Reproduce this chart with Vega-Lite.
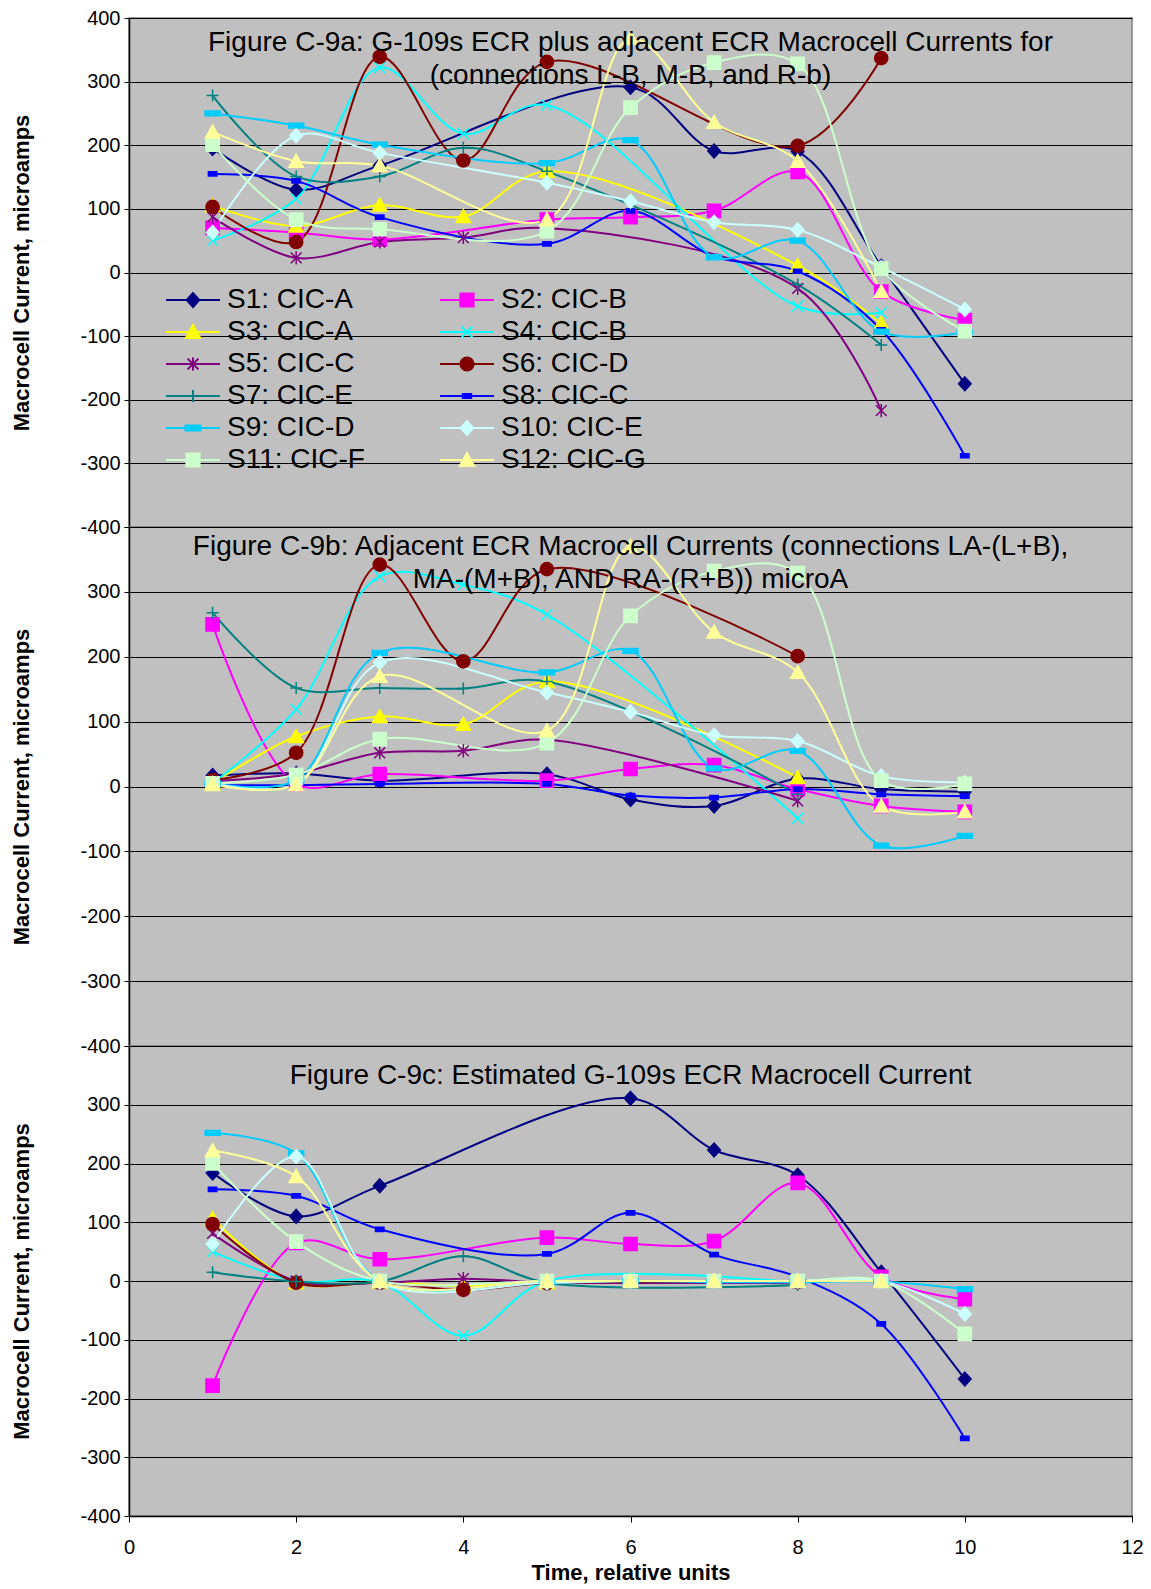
{
"$schema": "https://vega.github.io/schema/vega-lite/v6.json",
"padding": {"left": 10, "top": 7, "right": 5, "bottom": 3},
"background": "white",
"spacing": 0,
"bounds": "flush",
"config": {
  "view": {"fill": "#C0C0C0", "stroke": "#808080", "strokeWidth": 1.5},
  "concat": {"spacing": 0},
  "axisX": {"grid": false, "domainColor": "#000000", "domainWidth": 1.5, "tickColor": "#000000", "tickSize": 6, "labelFont": "Liberation Sans Narrow, Liberation Sans", "labelFontSize": 20, "labelColor": "#000000", "labelPadding": 15, "labelFlush": false, "titleFont": "Liberation Sans", "titleFontSize": 22, "titleFontWeight": "bold", "titleColor": "#000000", "titlePadding": 5},
  "axisY": {"grid": true, "gridColor": "#000000", "gridWidth": 1, "gridOpacity": 1, "domainColor": "#000000", "domainWidth": 1.5, "tickColor": "#000000", "tickSize": 5, "labelFont": "Liberation Sans Narrow, Liberation Sans", "labelFontSize": 20, "labelColor": "#000000", "labelPadding": 4, "labelFlush": false, "titleFont": "Liberation Sans", "titleFontSize": 22, "titleFontWeight": "bold", "titleColor": "#000000", "titlePadding": 46},
  "title": {"font": "Liberation Sans", "fontSize": 28, "fontWeight": "normal", "color": "#000000", "anchor": "middle", "frame": "group", "lineHeight": 33, "baseline": "top"}
},
"datasets": {"d": [
{"p":"a","s":"S1: CIC-A","x":1,"y":195},{"p":"a","s":"S1: CIC-A","x":2,"y":130},{"p":"a","s":"S1: CIC-A","x":3,"y":168},{"p":"a","s":"S1: CIC-A","x":6,"y":291},{"p":"a","s":"S1: CIC-A","x":7,"y":191},{"p":"a","s":"S1: CIC-A","x":8,"y":190},{"p":"a","s":"S1: CIC-A","x":9,"y":10},{"p":"a","s":"S1: CIC-A","x":10,"y":-175},
{"p":"a","s":"S2: CIC-B","x":1,"y":70},{"p":"a","s":"S2: CIC-B","x":2,"y":63},{"p":"a","s":"S2: CIC-B","x":3,"y":52},{"p":"a","s":"S2: CIC-B","x":5,"y":83},{"p":"a","s":"S2: CIC-B","x":6,"y":87},{"p":"a","s":"S2: CIC-B","x":7,"y":97},{"p":"a","s":"S2: CIC-B","x":8,"y":158},{"p":"a","s":"S2: CIC-B","x":9,"y":-30},{"p":"a","s":"S2: CIC-B","x":10,"y":-75},
{"p":"a","s":"S3: CIC-A","x":1,"y":105},{"p":"a","s":"S3: CIC-A","x":2,"y":73},{"p":"a","s":"S3: CIC-A","x":3,"y":106},{"p":"a","s":"S3: CIC-A","x":4,"y":88},{"p":"a","s":"S3: CIC-A","x":5,"y":159},{"p":"a","s":"S3: CIC-A","x":8,"y":11},{"p":"a","s":"S3: CIC-A","x":9,"y":-80},
{"p":"a","s":"S4: CIC-B","x":1,"y":50},{"p":"a","s":"S4: CIC-B","x":2,"y":116},{"p":"a","s":"S4: CIC-B","x":3,"y":322},{"p":"a","s":"S4: CIC-B","x":4,"y":218},{"p":"a","s":"S4: CIC-B","x":5,"y":263},{"p":"a","s":"S4: CIC-B","x":8,"y":-53},{"p":"a","s":"S4: CIC-B","x":9,"y":-63},
{"p":"a","s":"S5: CIC-C","x":1,"y":87},{"p":"a","s":"S5: CIC-C","x":2,"y":23},{"p":"a","s":"S5: CIC-C","x":3,"y":48},{"p":"a","s":"S5: CIC-C","x":4,"y":55},{"p":"a","s":"S5: CIC-C","x":5,"y":70},{"p":"a","s":"S5: CIC-C","x":8,"y":-25},{"p":"a","s":"S5: CIC-C","x":9,"y":-217},
{"p":"a","s":"S6: CIC-D","x":1,"y":103},{"p":"a","s":"S6: CIC-D","x":2,"y":48},{"p":"a","s":"S6: CIC-D","x":3,"y":339},{"p":"a","s":"S6: CIC-D","x":4,"y":176},{"p":"a","s":"S6: CIC-D","x":5,"y":331},{"p":"a","s":"S6: CIC-D","x":8,"y":199},{"p":"a","s":"S6: CIC-D","x":9,"y":337},
{"p":"a","s":"S7: CIC-E","x":1,"y":278},{"p":"a","s":"S7: CIC-E","x":2,"y":151},{"p":"a","s":"S7: CIC-E","x":3,"y":151},{"p":"a","s":"S7: CIC-E","x":4,"y":196},{"p":"a","s":"S7: CIC-E","x":5,"y":159},{"p":"a","s":"S7: CIC-E","x":8,"y":-19},{"p":"a","s":"S7: CIC-E","x":9,"y":-114},
{"p":"a","s":"S8: CIC-C","x":1,"y":155},{"p":"a","s":"S8: CIC-C","x":2,"y":144},{"p":"a","s":"S8: CIC-C","x":3,"y":87},{"p":"a","s":"S8: CIC-C","x":5,"y":45},{"p":"a","s":"S8: CIC-C","x":6,"y":97},{"p":"a","s":"S8: CIC-C","x":7,"y":25},{"p":"a","s":"S8: CIC-C","x":8,"y":2},{"p":"a","s":"S8: CIC-C","x":9,"y":-90},{"p":"a","s":"S8: CIC-C","x":10,"y":-288},
{"p":"a","s":"S9: CIC-D","x":1,"y":250},{"p":"a","s":"S9: CIC-D","x":2,"y":231},{"p":"a","s":"S9: CIC-D","x":3,"y":201},{"p":"a","s":"S9: CIC-D","x":5,"y":172},{"p":"a","s":"S9: CIC-D","x":6,"y":208},{"p":"a","s":"S9: CIC-D","x":7,"y":24},{"p":"a","s":"S9: CIC-D","x":8,"y":50},{"p":"a","s":"S9: CIC-D","x":9,"y":-93},{"p":"a","s":"S9: CIC-D","x":10,"y":-94},
{"p":"a","s":"S10: CIC-E","x":1,"y":63},{"p":"a","s":"S10: CIC-E","x":2,"y":215},{"p":"a","s":"S10: CIC-E","x":3,"y":188},{"p":"a","s":"S10: CIC-E","x":5,"y":141},{"p":"a","s":"S10: CIC-E","x":6,"y":112},{"p":"a","s":"S10: CIC-E","x":7,"y":79},{"p":"a","s":"S10: CIC-E","x":8,"y":67},{"p":"a","s":"S10: CIC-E","x":9,"y":8},{"p":"a","s":"S10: CIC-E","x":10,"y":-58},
{"p":"a","s":"S11: CIC-F","x":1,"y":201},{"p":"a","s":"S11: CIC-F","x":2,"y":83},{"p":"a","s":"S11: CIC-F","x":3,"y":68},{"p":"a","s":"S11: CIC-F","x":5,"y":65},{"p":"a","s":"S11: CIC-F","x":6,"y":259},{"p":"a","s":"S11: CIC-F","x":7,"y":330},{"p":"a","s":"S11: CIC-F","x":8,"y":328},{"p":"a","s":"S11: CIC-F","x":9,"y":6},{"p":"a","s":"S11: CIC-F","x":10,"y":-92},
{"p":"a","s":"S12: CIC-G","x":1,"y":221},{"p":"a","s":"S12: CIC-G","x":2,"y":175},{"p":"a","s":"S12: CIC-G","x":3,"y":168},{"p":"a","s":"S12: CIC-G","x":5,"y":83},{"p":"a","s":"S12: CIC-G","x":6,"y":368},{"p":"a","s":"S12: CIC-G","x":7,"y":236},{"p":"a","s":"S12: CIC-G","x":8,"y":175},{"p":"a","s":"S12: CIC-G","x":9,"y":-30},

{"p":"b","s":"S1: CIC-A","x":1,"y":17},{"p":"b","s":"S1: CIC-A","x":2,"y":20},{"p":"b","s":"S1: CIC-A","x":3,"y":9},{"p":"b","s":"S1: CIC-A","x":5,"y":19},{"p":"b","s":"S1: CIC-A","x":6,"y":-20},{"p":"b","s":"S1: CIC-A","x":7,"y":-30},{"p":"b","s":"S1: CIC-A","x":8,"y":12},{"p":"b","s":"S1: CIC-A","x":9,"y":-4},{"p":"b","s":"S1: CIC-A","x":10,"y":-8},
{"p":"b","s":"S2: CIC-B","x":1,"y":250},{"p":"b","s":"S2: CIC-B","x":2,"y":4},{"p":"b","s":"S2: CIC-B","x":3,"y":19},{"p":"b","s":"S2: CIC-B","x":5,"y":9},{"p":"b","s":"S2: CIC-B","x":6,"y":27},{"p":"b","s":"S2: CIC-B","x":7,"y":33},{"p":"b","s":"S2: CIC-B","x":8,"y":-4},{"p":"b","s":"S2: CIC-B","x":9,"y":-30},{"p":"b","s":"S2: CIC-B","x":10,"y":-39},
{"p":"b","s":"S3: CIC-A","x":1,"y":5},{"p":"b","s":"S3: CIC-A","x":2,"y":77},{"p":"b","s":"S3: CIC-A","x":3,"y":108},{"p":"b","s":"S3: CIC-A","x":4,"y":96},{"p":"b","s":"S3: CIC-A","x":5,"y":162},{"p":"b","s":"S3: CIC-A","x":8,"y":14},
{"p":"b","s":"S4: CIC-B","x":1,"y":5},{"p":"b","s":"S4: CIC-B","x":2,"y":119},{"p":"b","s":"S4: CIC-B","x":3,"y":324},{"p":"b","s":"S4: CIC-B","x":4,"y":311},{"p":"b","s":"S4: CIC-B","x":5,"y":265},{"p":"b","s":"S4: CIC-B","x":8,"y":-49},
{"p":"b","s":"S5: CIC-C","x":1,"y":8},{"p":"b","s":"S5: CIC-C","x":2,"y":20},{"p":"b","s":"S5: CIC-C","x":3,"y":52},{"p":"b","s":"S5: CIC-C","x":4,"y":55},{"p":"b","s":"S5: CIC-C","x":5,"y":72},{"p":"b","s":"S5: CIC-C","x":8,"y":-22},
{"p":"b","s":"S6: CIC-D","x":1,"y":10},{"p":"b","s":"S6: CIC-D","x":2,"y":52},{"p":"b","s":"S6: CIC-D","x":3,"y":342},{"p":"b","s":"S6: CIC-D","x":4,"y":193},{"p":"b","s":"S6: CIC-D","x":5,"y":335},{"p":"b","s":"S6: CIC-D","x":8,"y":201},
{"p":"b","s":"S7: CIC-E","x":1,"y":268},{"p":"b","s":"S7: CIC-E","x":2,"y":152},{"p":"b","s":"S7: CIC-E","x":3,"y":152},{"p":"b","s":"S7: CIC-E","x":4,"y":151},{"p":"b","s":"S7: CIC-E","x":5,"y":162},{"p":"b","s":"S7: CIC-E","x":8,"y":-12},
{"p":"b","s":"S8: CIC-C","x":1,"y":2},{"p":"b","s":"S8: CIC-C","x":2,"y":2},{"p":"b","s":"S8: CIC-C","x":3,"y":4},{"p":"b","s":"S8: CIC-C","x":5,"y":4},{"p":"b","s":"S8: CIC-C","x":6,"y":-14},{"p":"b","s":"S8: CIC-C","x":7,"y":-17},{"p":"b","s":"S8: CIC-C","x":8,"y":-4},{"p":"b","s":"S8: CIC-C","x":9,"y":-12},{"p":"b","s":"S8: CIC-C","x":10,"y":-15},
{"p":"b","s":"S9: CIC-D","x":1,"y":5},{"p":"b","s":"S9: CIC-D","x":2,"y":10},{"p":"b","s":"S9: CIC-D","x":3,"y":206},{"p":"b","s":"S9: CIC-D","x":5,"y":176},{"p":"b","s":"S9: CIC-D","x":6,"y":209},{"p":"b","s":"S9: CIC-D","x":7,"y":28},{"p":"b","s":"S9: CIC-D","x":8,"y":55},{"p":"b","s":"S9: CIC-D","x":9,"y":-91},{"p":"b","s":"S9: CIC-D","x":10,"y":-76},
{"p":"b","s":"S10: CIC-E","x":1,"y":5},{"p":"b","s":"S10: CIC-E","x":2,"y":4},{"p":"b","s":"S10: CIC-E","x":3,"y":191},{"p":"b","s":"S10: CIC-E","x":5,"y":145},{"p":"b","s":"S10: CIC-E","x":6,"y":115},{"p":"b","s":"S10: CIC-E","x":7,"y":79},{"p":"b","s":"S10: CIC-E","x":8,"y":70},{"p":"b","s":"S10: CIC-E","x":9,"y":16},{"p":"b","s":"S10: CIC-E","x":10,"y":6},
{"p":"b","s":"S11: CIC-F","x":1,"y":5},{"p":"b","s":"S11: CIC-F","x":2,"y":18},{"p":"b","s":"S11: CIC-F","x":3,"y":73},{"p":"b","s":"S11: CIC-F","x":5,"y":67},{"p":"b","s":"S11: CIC-F","x":6,"y":263},{"p":"b","s":"S11: CIC-F","x":7,"y":332},{"p":"b","s":"S11: CIC-F","x":8,"y":329},{"p":"b","s":"S11: CIC-F","x":9,"y":9},{"p":"b","s":"S11: CIC-F","x":10,"y":4},
{"p":"b","s":"S12: CIC-G","x":1,"y":3},{"p":"b","s":"S12: CIC-G","x":2,"y":3},{"p":"b","s":"S12: CIC-G","x":3,"y":170},{"p":"b","s":"S12: CIC-G","x":5,"y":86},{"p":"b","s":"S12: CIC-G","x":6,"y":370},{"p":"b","s":"S12: CIC-G","x":7,"y":238},{"p":"b","s":"S12: CIC-G","x":8,"y":176},{"p":"b","s":"S12: CIC-G","x":9,"y":-30},{"p":"b","s":"S12: CIC-G","x":10,"y":-39},

{"p":"c","s":"S1: CIC-A","x":1,"y":184},{"p":"c","s":"S1: CIC-A","x":2,"y":110},{"p":"c","s":"S1: CIC-A","x":3,"y":162},{"p":"c","s":"S1: CIC-A","x":6,"y":311},{"p":"c","s":"S1: CIC-A","x":7,"y":223},{"p":"c","s":"S1: CIC-A","x":8,"y":180},{"p":"c","s":"S1: CIC-A","x":9,"y":15},{"p":"c","s":"S1: CIC-A","x":10,"y":-167},
{"p":"c","s":"S2: CIC-B","x":1,"y":-178},{"p":"c","s":"S2: CIC-B","x":2,"y":65},{"p":"c","s":"S2: CIC-B","x":3,"y":37},{"p":"c","s":"S2: CIC-B","x":5,"y":74},{"p":"c","s":"S2: CIC-B","x":6,"y":63},{"p":"c","s":"S2: CIC-B","x":7,"y":68},{"p":"c","s":"S2: CIC-B","x":8,"y":167},{"p":"c","s":"S2: CIC-B","x":9,"y":7},{"p":"c","s":"S2: CIC-B","x":10,"y":-31},
{"p":"c","s":"S3: CIC-A","x":1,"y":106},{"p":"c","s":"S3: CIC-A","x":2,"y":-3},{"p":"c","s":"S3: CIC-A","x":3,"y":-2},{"p":"c","s":"S3: CIC-A","x":4,"y":-8},{"p":"c","s":"S3: CIC-A","x":5,"y":-3},{"p":"c","s":"S3: CIC-A","x":8,"y":0},
{"p":"c","s":"S4: CIC-B","x":1,"y":50},{"p":"c","s":"S4: CIC-B","x":2,"y":0},{"p":"c","s":"S4: CIC-B","x":3,"y":-2},{"p":"c","s":"S4: CIC-B","x":4,"y":-93},{"p":"c","s":"S4: CIC-B","x":5,"y":0},{"p":"c","s":"S4: CIC-B","x":8,"y":-3},
{"p":"c","s":"S5: CIC-C","x":1,"y":81},{"p":"c","s":"S5: CIC-C","x":2,"y":0},{"p":"c","s":"S5: CIC-C","x":3,"y":-3},{"p":"c","s":"S5: CIC-C","x":4,"y":4},{"p":"c","s":"S5: CIC-C","x":5,"y":-2},{"p":"c","s":"S5: CIC-C","x":8,"y":-3},
{"p":"c","s":"S6: CIC-D","x":1,"y":97},{"p":"c","s":"S6: CIC-D","x":2,"y":-3},{"p":"c","s":"S6: CIC-D","x":3,"y":-3},{"p":"c","s":"S6: CIC-D","x":4,"y":-15},{"p":"c","s":"S6: CIC-D","x":5,"y":-4},{"p":"c","s":"S6: CIC-D","x":8,"y":-2},
{"p":"c","s":"S7: CIC-E","x":1,"y":15},{"p":"c","s":"S7: CIC-E","x":2,"y":-1},{"p":"c","s":"S7: CIC-E","x":3,"y":-1},{"p":"c","s":"S7: CIC-E","x":4,"y":42},{"p":"c","s":"S7: CIC-E","x":5,"y":-3},{"p":"c","s":"S7: CIC-E","x":8,"y":-7},
{"p":"c","s":"S8: CIC-C","x":1,"y":156},{"p":"c","s":"S8: CIC-C","x":2,"y":145},{"p":"c","s":"S8: CIC-C","x":3,"y":88},{"p":"c","s":"S8: CIC-C","x":5,"y":46},{"p":"c","s":"S8: CIC-C","x":6,"y":116},{"p":"c","s":"S8: CIC-C","x":7,"y":45},{"p":"c","s":"S8: CIC-C","x":8,"y":7},{"p":"c","s":"S8: CIC-C","x":9,"y":-73},{"p":"c","s":"S8: CIC-C","x":10,"y":-268},
{"p":"c","s":"S9: CIC-D","x":1,"y":252},{"p":"c","s":"S9: CIC-D","x":2,"y":217},{"p":"c","s":"S9: CIC-D","x":3,"y":0},{"p":"c","s":"S9: CIC-D","x":5,"y":-3},{"p":"c","s":"S9: CIC-D","x":6,"y":0},{"p":"c","s":"S9: CIC-D","x":7,"y":-2},{"p":"c","s":"S9: CIC-D","x":8,"y":-2},{"p":"c","s":"S9: CIC-D","x":9,"y":-1},{"p":"c","s":"S9: CIC-D","x":10,"y":-14},
{"p":"c","s":"S10: CIC-E","x":1,"y":63},{"p":"c","s":"S10: CIC-E","x":2,"y":212},{"p":"c","s":"S10: CIC-E","x":3,"y":-2},{"p":"c","s":"S10: CIC-E","x":5,"y":-3},{"p":"c","s":"S10: CIC-E","x":6,"y":0},{"p":"c","s":"S10: CIC-E","x":7,"y":0},{"p":"c","s":"S10: CIC-E","x":8,"y":0},{"p":"c","s":"S10: CIC-E","x":9,"y":0},{"p":"c","s":"S10: CIC-E","x":10,"y":-56},
{"p":"c","s":"S11: CIC-F","x":1,"y":200},{"p":"c","s":"S11: CIC-F","x":2,"y":67},{"p":"c","s":"S11: CIC-F","x":3,"y":0},{"p":"c","s":"S11: CIC-F","x":5,"y":0},{"p":"c","s":"S11: CIC-F","x":6,"y":0},{"p":"c","s":"S11: CIC-F","x":7,"y":0},{"p":"c","s":"S11: CIC-F","x":8,"y":0},{"p":"c","s":"S11: CIC-F","x":9,"y":0},{"p":"c","s":"S11: CIC-F","x":10,"y":-90},
{"p":"c","s":"S12: CIC-G","x":1,"y":222},{"p":"c","s":"S12: CIC-G","x":2,"y":178},{"p":"c","s":"S12: CIC-G","x":3,"y":0},{"p":"c","s":"S12: CIC-G","x":5,"y":0},{"p":"c","s":"S12: CIC-G","x":6,"y":0},{"p":"c","s":"S12: CIC-G","x":7,"y":0},{"p":"c","s":"S12: CIC-G","x":8,"y":0},{"p":"c","s":"S12: CIC-G","x":9,"y":0}
]},
"vconcat": [
{
 "width": 1003, "height": 509,
 "data": {"name": "d"},
 "transform": [{"filter": "datum.p == 'a'"}],
 "title": {"text": ["Figure C-9a:  G-109s ECR plus adjacent ECR Macrocell Currents for", "(connections L-B, M-B, and R-b)"], "offset": -82},
 "encoding": {
   "x": {"field": "x", "type": "quantitative", "scale": {"domain": [0, 12]}, "axis": null},
   "y": {"field": "y", "type": "quantitative", "scale": {"domain": [-400, 400]}, "axis": {"values": [-400,-300,-200,-100,0,100,200,300,400], "labelExpr": "'' + datum.value", "title": "Macrocell Current, microamps"}}
 },
 "layer": [
  {"mark": {"type": "line", "interpolate": "catmull-rom", "strokeWidth": 2},
   "encoding": {"stroke": {"field": "s", "type": "nominal", "legend": null,
     "scale": {"domain": ["S1: CIC-A","S2: CIC-B","S3: CIC-A","S4: CIC-B","S5: CIC-C","S6: CIC-D","S7: CIC-E","S8: CIC-C","S9: CIC-D","S10: CIC-E","S11: CIC-F","S12: CIC-G"],
               "range": ["#000080","#FF00FF","#FFFF00","#00FFFF","#800080","#800000","#008080","#0000FF","#00CCFF","#CCFFFF","#CCFFCC","#FFFF99"]}}}},
  {"mark": {"type": "point", "filled": true, "size": 144, "strokeWidth": 1.5, "opacity": 1},
   "encoding": {
     "fill": {"field": "s", "type": "nominal", "legend": null,
       "scale": {"domain": ["S1: CIC-A","S2: CIC-B","S3: CIC-A","S4: CIC-B","S5: CIC-C","S6: CIC-D","S7: CIC-E","S8: CIC-C","S9: CIC-D","S10: CIC-E","S11: CIC-F","S12: CIC-G"],
                 "range": ["#000080","#FF00FF","#FFFF00","#00FFFF","#800080","#800000","#008080","#0000FF","#00CCFF","#CCFFFF","#CCFFCC","#FFFF99"]}},
     "stroke": {"field": "s", "type": "nominal", "legend": null,
       "scale": {"domain": ["S1: CIC-A","S2: CIC-B","S3: CIC-A","S4: CIC-B","S5: CIC-C","S6: CIC-D","S7: CIC-E","S8: CIC-C","S9: CIC-D","S10: CIC-E","S11: CIC-F","S12: CIC-G"],
                 "range": ["#000080","#FF00FF","#FFFF00","#00FFFF","#800080","#800000","#008080","#0000FF","#00CCFF","#CCFFFF","#CCFFCC","#FFFF99"]}},
     "shape": {"field": "s", "type": "nominal", "legend": null,
       "scale": {"domain": ["S1: CIC-A","S2: CIC-B","S3: CIC-A","S4: CIC-B","S5: CIC-C","S6: CIC-D","S7: CIC-E","S8: CIC-C","S9: CIC-D","S10: CIC-E","S11: CIC-F","S12: CIC-G"],
                 "range": ["M0,-1.15L1.05,0L0,1.15L-1.05,0Z","M-1.1,-1.1H1.1V1.1H-1.1Z","M0,-1.15L1.2,1L-1.2,1Z","M-0.9,-0.9L0.9,0.9M-0.9,0.9L0.9,-0.9","M-0.9,-0.9L0.9,0.9M-0.9,0.9L0.9,-0.9M0,-1.1V1.1","M-1.1,0A1.1,1.1,0,1,1,1.1,0A1.1,1.1,0,1,1,-1.1,0Z","M-1,0H1M0,-1V1","M-0.7,-0.35H0.7V0.35H-0.7Z","M-1.25,-0.4H1.25V0.4H-1.25Z","M0,-1.15L1.05,0L0,1.15L-1.05,0Z","M-1.1,-1.1H1.1V1.1H-1.1Z","M0,-1.15L1.2,1L-1.2,1Z"]}}
   }},
  {"transform": [{"filter": "false"}],
   "mark": {"type": "point", "filled": true, "size": 144, "strokeWidth": 2, "opacity": 1},
   "encoding": {
     "fill": {"field": "s", "type": "nominal",
       "scale": {"domain": ["S1: CIC-A","S2: CIC-B","S3: CIC-A","S4: CIC-B","S5: CIC-C","S6: CIC-D","S7: CIC-E","S8: CIC-C","S9: CIC-D","S10: CIC-E","S11: CIC-F","S12: CIC-G"],
                 "range": ["#000080","#FF00FF","#FFFF00","#00FFFF","#800080","#800000","#008080","#0000FF","#00CCFF","#CCFFFF","#CCFFCC","#FFFF99"]},
       "legend": {"orient": "none", "legendX": 29, "legendY": 268, "columns": 2, "direction": "horizontal", "title": null, "labelFont": "Liberation Sans", "labelFontSize": 28, "labelColor": "#000000", "symbolSize": 144, "symbolStrokeWidth": 2, "symbolOffset": 21, "labelOffset": 20, "rowPadding": 4, "columnPadding": 60, "gridAlign": "all", "labelLimit": 0}},
     "stroke": {"field": "s", "type": "nominal",
       "scale": {"domain": ["S1: CIC-A","S2: CIC-B","S3: CIC-A","S4: CIC-B","S5: CIC-C","S6: CIC-D","S7: CIC-E","S8: CIC-C","S9: CIC-D","S10: CIC-E","S11: CIC-F","S12: CIC-G"],
                 "range": ["#000080","#FF00FF","#FFFF00","#00FFFF","#800080","#800000","#008080","#0000FF","#00CCFF","#CCFFFF","#CCFFCC","#FFFF99"]},
       "legend": {"orient": "none", "legendX": 29, "legendY": 268, "columns": 2, "direction": "horizontal", "title": null, "labelFont": "Liberation Sans", "labelFontSize": 28, "labelColor": "#000000", "symbolSize": 144, "symbolStrokeWidth": 2, "symbolOffset": 21, "labelOffset": 20, "rowPadding": 4, "columnPadding": 60, "gridAlign": "all", "labelLimit": 0}},
     "shape": {"field": "s", "type": "nominal",
       "scale": {"domain": ["S1: CIC-A","S2: CIC-B","S3: CIC-A","S4: CIC-B","S5: CIC-C","S6: CIC-D","S7: CIC-E","S8: CIC-C","S9: CIC-D","S10: CIC-E","S11: CIC-F","S12: CIC-G"],
                 "range": ["M-4.5,0H4.5M0,-1.15L1.05,0L0,1.15L-1.05,0Z","M-4.5,0H4.5M-1.1,-1.1H1.1V1.1H-1.1Z","M-4.5,0H4.5M0,-1.15L1.2,1L-1.2,1Z","M-4.5,0H4.5M-0.9,-0.9L0.9,0.9M-0.9,0.9L0.9,-0.9","M-4.5,0H4.5M-0.9,-0.9L0.9,0.9M-0.9,0.9L0.9,-0.9M0,-1.1V1.1","M-4.5,0H4.5M-1.1,0A1.1,1.1,0,1,1,1.1,0A1.1,1.1,0,1,1,-1.1,0Z","M-4.5,0H4.5M0,-1V1","M-4.5,0H4.5M-0.7,-0.35H0.7V0.35H-0.7Z","M-4.5,0H4.5M-1.25,-0.4H1.25V0.4H-1.25Z","M-4.5,0H4.5M0,-1.15L1.05,0L0,1.15L-1.05,0Z","M-4.5,0H4.5M-1.1,-1.1H1.1V1.1H-1.1Z","M-4.5,0H4.5M0,-1.15L1.2,1L-1.2,1Z"]},
       "legend": {"orient": "none", "legendX": 29, "legendY": 268, "columns": 2, "direction": "horizontal", "title": null, "labelFont": "Liberation Sans", "labelFontSize": 28, "labelColor": "#000000", "symbolSize": 144, "symbolStrokeWidth": 2, "symbolOffset": 21, "labelOffset": 20, "rowPadding": 4, "columnPadding": 60, "gridAlign": "all", "labelLimit": 0}}
   }}
 ],
 "resolve": {"scale": {"fill": "independent", "stroke": "independent", "shape": "independent"}}
},
{
 "width": 1003, "height": 519,
 "data": {"name": "d"},
 "transform": [{"filter": "datum.p == 'b'"}],
 "title": {"text": ["Figure C-9b:  Adjacent ECR Macrocell Currents (connections LA-(L+B),", "MA-(M+B), AND RA-(R+B)) microA"], "offset": -67},
 "encoding": {
   "x": {"field": "x", "type": "quantitative", "scale": {"domain": [0, 12]}, "axis": null},
   "y": {"field": "y", "type": "quantitative", "scale": {"domain": [-400, 400]}, "axis": {"values": [-400,-300,-200,-100,0,100,200,300,400], "labelExpr": "datum.value == 400 ? '' : '' + datum.value", "title": "Macrocell Current, microamps"}}
 },
 "layer": [
  {"mark": {"type": "line", "interpolate": "catmull-rom", "strokeWidth": 2},
   "encoding": {"stroke": {"field": "s", "type": "nominal", "legend": null,
     "scale": {"domain": ["S1: CIC-A","S2: CIC-B","S3: CIC-A","S4: CIC-B","S5: CIC-C","S6: CIC-D","S7: CIC-E","S8: CIC-C","S9: CIC-D","S10: CIC-E","S11: CIC-F","S12: CIC-G"],
               "range": ["#000080","#FF00FF","#FFFF00","#00FFFF","#800080","#800000","#008080","#0000FF","#00CCFF","#CCFFFF","#CCFFCC","#FFFF99"]}}}},
  {"mark": {"type": "point", "filled": true, "size": 144, "strokeWidth": 1.5, "opacity": 1},
   "encoding": {
     "fill": {"field": "s", "type": "nominal", "legend": null,
       "scale": {"domain": ["S1: CIC-A","S2: CIC-B","S3: CIC-A","S4: CIC-B","S5: CIC-C","S6: CIC-D","S7: CIC-E","S8: CIC-C","S9: CIC-D","S10: CIC-E","S11: CIC-F","S12: CIC-G"],
                 "range": ["#000080","#FF00FF","#FFFF00","#00FFFF","#800080","#800000","#008080","#0000FF","#00CCFF","#CCFFFF","#CCFFCC","#FFFF99"]}},
     "stroke": {"field": "s", "type": "nominal", "legend": null,
       "scale": {"domain": ["S1: CIC-A","S2: CIC-B","S3: CIC-A","S4: CIC-B","S5: CIC-C","S6: CIC-D","S7: CIC-E","S8: CIC-C","S9: CIC-D","S10: CIC-E","S11: CIC-F","S12: CIC-G"],
                 "range": ["#000080","#FF00FF","#FFFF00","#00FFFF","#800080","#800000","#008080","#0000FF","#00CCFF","#CCFFFF","#CCFFCC","#FFFF99"]}},
     "shape": {"field": "s", "type": "nominal", "legend": null,
       "scale": {"domain": ["S1: CIC-A","S2: CIC-B","S3: CIC-A","S4: CIC-B","S5: CIC-C","S6: CIC-D","S7: CIC-E","S8: CIC-C","S9: CIC-D","S10: CIC-E","S11: CIC-F","S12: CIC-G"],
                 "range": ["M0,-1.15L1.05,0L0,1.15L-1.05,0Z","M-1.1,-1.1H1.1V1.1H-1.1Z","M0,-1.15L1.2,1L-1.2,1Z","M-0.9,-0.9L0.9,0.9M-0.9,0.9L0.9,-0.9","M-0.9,-0.9L0.9,0.9M-0.9,0.9L0.9,-0.9M0,-1.1V1.1","M-1.1,0A1.1,1.1,0,1,1,1.1,0A1.1,1.1,0,1,1,-1.1,0Z","M-1,0H1M0,-1V1","M-0.7,-0.35H0.7V0.35H-0.7Z","M-1.25,-0.4H1.25V0.4H-1.25Z","M0,-1.15L1.05,0L0,1.15L-1.05,0Z","M-1.1,-1.1H1.1V1.1H-1.1Z","M0,-1.15L1.2,1L-1.2,1Z"]}}
   }}
 ],
 "resolve": {"scale": {"fill": "independent", "stroke": "independent", "shape": "independent"}}
},
{
 "width": 1003, "height": 470,
 "data": {"name": "d"},
 "transform": [{"filter": "datum.p == 'c'"}],
 "title": {"text": "Figure C-9c:  Estimated G-109s ECR Macrocell Current", "offset": -44},
 "encoding": {
   "x": {"field": "x", "type": "quantitative", "scale": {"domain": [0, 12]}, "axis": {"values": [0,2,4,6,8,10,12], "title": "Time, relative units"}},
   "y": {"field": "y", "type": "quantitative", "scale": {"domain": [-400, 400]}, "axis": {"values": [-400,-300,-200,-100,0,100,200,300,400], "labelExpr": "datum.value == 400 ? '' : '' + datum.value", "title": "Macrocell Current, microamps"}}
 },
 "layer": [
  {"mark": {"type": "line", "interpolate": "catmull-rom", "strokeWidth": 2},
   "encoding": {"stroke": {"field": "s", "type": "nominal", "legend": null,
     "scale": {"domain": ["S1: CIC-A","S2: CIC-B","S3: CIC-A","S4: CIC-B","S5: CIC-C","S6: CIC-D","S7: CIC-E","S8: CIC-C","S9: CIC-D","S10: CIC-E","S11: CIC-F","S12: CIC-G"],
               "range": ["#000080","#FF00FF","#FFFF00","#00FFFF","#800080","#800000","#008080","#0000FF","#00CCFF","#CCFFFF","#CCFFCC","#FFFF99"]}}}},
  {"mark": {"type": "point", "filled": true, "size": 144, "strokeWidth": 1.5, "opacity": 1},
   "encoding": {
     "fill": {"field": "s", "type": "nominal", "legend": null,
       "scale": {"domain": ["S1: CIC-A","S2: CIC-B","S3: CIC-A","S4: CIC-B","S5: CIC-C","S6: CIC-D","S7: CIC-E","S8: CIC-C","S9: CIC-D","S10: CIC-E","S11: CIC-F","S12: CIC-G"],
                 "range": ["#000080","#FF00FF","#FFFF00","#00FFFF","#800080","#800000","#008080","#0000FF","#00CCFF","#CCFFFF","#CCFFCC","#FFFF99"]}},
     "stroke": {"field": "s", "type": "nominal", "legend": null,
       "scale": {"domain": ["S1: CIC-A","S2: CIC-B","S3: CIC-A","S4: CIC-B","S5: CIC-C","S6: CIC-D","S7: CIC-E","S8: CIC-C","S9: CIC-D","S10: CIC-E","S11: CIC-F","S12: CIC-G"],
                 "range": ["#000080","#FF00FF","#FFFF00","#00FFFF","#800080","#800000","#008080","#0000FF","#00CCFF","#CCFFFF","#CCFFCC","#FFFF99"]}},
     "shape": {"field": "s", "type": "nominal", "legend": null,
       "scale": {"domain": ["S1: CIC-A","S2: CIC-B","S3: CIC-A","S4: CIC-B","S5: CIC-C","S6: CIC-D","S7: CIC-E","S8: CIC-C","S9: CIC-D","S10: CIC-E","S11: CIC-F","S12: CIC-G"],
                 "range": ["M0,-1.15L1.05,0L0,1.15L-1.05,0Z","M-1.1,-1.1H1.1V1.1H-1.1Z","M0,-1.15L1.2,1L-1.2,1Z","M-0.9,-0.9L0.9,0.9M-0.9,0.9L0.9,-0.9","M-0.9,-0.9L0.9,0.9M-0.9,0.9L0.9,-0.9M0,-1.1V1.1","M-1.1,0A1.1,1.1,0,1,1,1.1,0A1.1,1.1,0,1,1,-1.1,0Z","M-1,0H1M0,-1V1","M-0.7,-0.35H0.7V0.35H-0.7Z","M-1.25,-0.4H1.25V0.4H-1.25Z","M0,-1.15L1.05,0L0,1.15L-1.05,0Z","M-1.1,-1.1H1.1V1.1H-1.1Z","M0,-1.15L1.2,1L-1.2,1Z"]}}
   }}
 ],
 "resolve": {"scale": {"fill": "independent", "stroke": "independent", "shape": "independent"}}
}
]
}
